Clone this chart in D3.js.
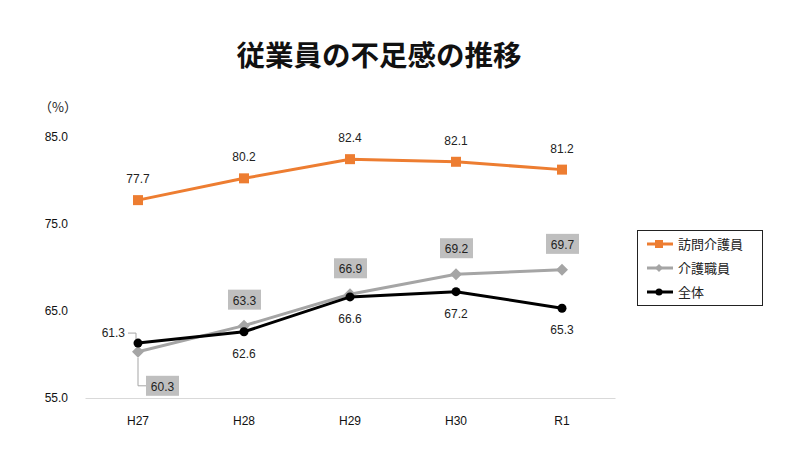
<!DOCTYPE html>
<html><head><meta charset="utf-8">
<script src="https://cdn.jsdelivr.net/npm/d3@7"></script>
<style>body{margin:0;background:#fff}svg{display:block}</style>
</head><body><svg id="c" width="800" height="460"></svg>
<script>
const categories = ["H27","H28","H29","H30","R1"];
const houmon = [77.7, 80.2, 82.4, 82.1, 81.2];
const kaigo = [60.3, 63.3, 66.9, 69.2, 69.7];
const zentai = [61.3, 62.6, 66.6, 67.2, 65.3];
const yTicks = [55, 65, 75, 85];
const seriesNames = ["訪問介護員","介護職員","全体"];

const svg = d3.select("#c");
const FONT = "'Liberation Sans', Arial, sans-serif";
const JFONT = "'Noto Sans CJK JP', sans-serif";
const x = d3.scaleBand().domain(categories).range([85, 615]);
const cx = d => x(d) + x.bandwidth()/2;
const y = d3.scaleLinear().domain([55, 85]).range([398, 136.5]);

svg.append("text").attr("x", 379).attr("y", 66).attr("text-anchor","middle")
  .attr("font-family", JFONT).attr("font-weight","bold").attr("font-size", 28.5).attr("fill","#111")
  .text("従業員の不足感の推移");

svg.append("text").attr("x", 58).attr("y", 112).attr("text-anchor","middle")
  .attr("font-family", JFONT).attr("font-size", 13).attr("fill","#222").text("（%）");

// y axis labels
const ya = svg.append("g").attr("transform","translate(68,0)")
  .call(d3.axisLeft(y).tickValues(yTicks).tickSize(0).tickPadding(0).tickFormat(d3.format(".1f")));
ya.select(".domain").remove();
ya.selectAll("text").attr("font-family", FONT).attr("font-size", 12).attr("fill","#111");

// x axis
const xa = svg.append("g").attr("transform","translate(0,398)")
  .call(d3.axisBottom(x).tickSize(0).tickPadding(18));
xa.select(".domain").attr("stroke","#d9d9d9").attr("stroke-width",1);
xa.selectAll("text").attr("font-family", FONT).attr("font-size", 12).attr("fill","#111");

const line = d3.line().x((d,i)=>cx(categories[i])).y(d=>y(d));
const diamond = r => `M0,${-r}L${r},0L0,${r}L${-r},0Z`;

function drawSeries(vals, color, marker){
  svg.append("path").datum(vals).attr("d", line).attr("fill","none")
    .attr("stroke", color).attr("stroke-width", 3);
  const g = svg.append("g");
  vals.forEach((v,i)=>{
    const px = cx(categories[i]), py = y(v);
    if (marker==="square") g.append("rect").attr("x",px-5).attr("y",py-5).attr("width",10).attr("height",10).attr("fill",color);
    else if (marker==="diamond") g.append("path").attr("d", diamond(6)).attr("transform",`translate(${px},${py})`).attr("fill",color);
    else g.append("circle").attr("cx",px).attr("cy",py).attr("r",4.5).attr("fill",color);
  });
}
drawSeries(kaigo, "#a5a5a5", "diamond");
drawSeries(zentai, "#000", "circle");
drawSeries(houmon, "#ed7d31", "square");

const lbl = (px, py, t, anchor="middle") => svg.append("text").attr("x",px).attr("y",py)
  .attr("text-anchor",anchor).attr("font-family",FONT).attr("font-size",12).attr("fill","#222").text(t);

// orange labels above
houmon.forEach((v,i)=> lbl(cx(categories[i]), y(v)-17, v.toFixed(1)));

// gray labels in boxes
kaigo.forEach((v,i)=>{
  const px = cx(categories[i]), py = y(v);
  let bx, by;
  if (i===0){ bx = px+8; by = py+24;
    svg.append("path").attr("d",`M${px},${py+6}V${by+10}H${bx}`).attr("fill","none").attr("stroke","#a5a5a5").attr("stroke-width",1);
  } else { bx = px-16; by = py-36; }
  svg.append("rect").attr("x",bx).attr("y",by).attr("width",33).attr("height",20).attr("fill","#bfbfbf");
  lbl(bx+16.5, by+15, v.toFixed(1));
});

// black labels below
zentai.forEach((v,i)=>{
  const px = cx(categories[i]), py = y(v);
  if (i===0){
    svg.append("path").attr("d",`M${px-10},${py-10}H${px-2}V${py-4}`).attr("fill","none").attr("stroke","#a5a5a5").attr("stroke-width",1);
    lbl(px-13, py-6, v.toFixed(1), "end");
  } else lbl(px, py+26, v.toFixed(1));
});

// legend
const lg = svg.append("g");
lg.append("rect").attr("x",637.5).attr("y",230.5).attr("width",125).attr("height",75).attr("fill","#fff").attr("stroke","#222").attr("stroke-width",1);
const colors = ["#ed7d31","#a5a5a5","#000"];
const markers = ["square","diamond","circle"];
seriesNames.forEach((n,i)=>{
  const ly = 244 + i*24;
  lg.append("line").attr("x1",647).attr("x2",673).attr("y1",ly).attr("y2",ly).attr("stroke",colors[i]).attr("stroke-width",3);
  if (markers[i]==="square") lg.append("rect").attr("x",655).attr("y",ly-4).attr("width",8).attr("height",8).attr("fill",colors[i]);
  else if (markers[i]==="diamond") lg.append("path").attr("d", diamond(4)).attr("transform",`translate(659,${ly})`).attr("fill",colors[i]);
  else lg.append("circle").attr("cx",659).attr("cy",ly).attr("r",3.5).attr("fill",colors[i]);
  lg.append("text").attr("x",678).attr("y",ly+5).attr("font-family",JFONT).attr("font-size",13).attr("fill","#222").text(n);
});
</script></body></html>
